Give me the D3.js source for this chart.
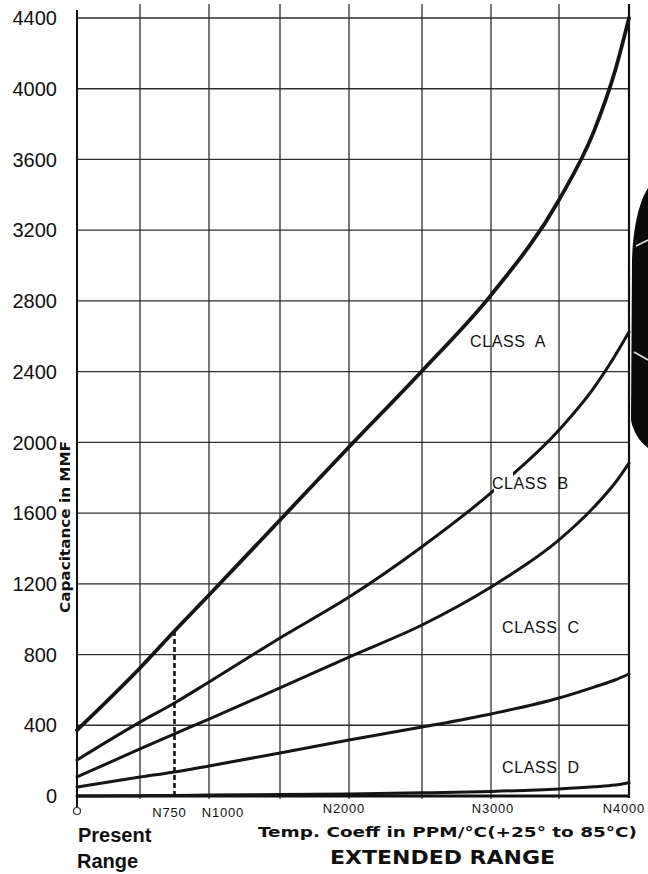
<!DOCTYPE html>
<html>
<head>
<meta charset="utf-8">
<script src="https://cdn.jsdelivr.net/npm/d3@7/dist/d3.min.js"></script>
<style>
  html, body { margin: 0; padding: 0; background: #fff; }
  svg { display: block; }
  text { font-family: "Liberation Sans", Arial, sans-serif; fill: #111; }
</style>
</head>
<body>
<svg id="chart" width="648" height="874"></svg>
<script>
// ---------------- data ----------------
const tempCoeffs = [0, 500, 750, 1000, 1500, 2000, 2500, 3000, 3500, 3750, 3900, 4000];
const curveA = [373, 724, 933, 1137, 1561, 1974, 2404, 2833, 3371, 3760, 4100, 4400];
const curveB = [204, 418, 526, 645, 894, 1125, 1410, 1714, 2070, 2310, 2490, 2624];
const curveC = [108, 266, 351, 435, 611, 786, 967, 1182, 1448, 1634, 1770, 1883];
const curveD = [51, 107, 136, 170, 243, 317, 390, 464, 554, 616, 656, 690];
const curveE = [0, 2, 3, 5, 8, 12, 18, 26, 40, 52, 62, 75];
const yTicks = [0, 400, 800, 1200, 1600, 2000, 2400, 2800, 3200, 3600, 4000, 4400];
const xGrid = [500, 1000, 1500, 2000, 2500, 3000, 3500];
const xTickValues = [750, 1000, 2000, 3000, 4000];
const xTickLabels = ["N750", "N1000", "N2000", "N3000", "N4000"];
const classLabels = ["CLASS  A", "CLASS  B", "CLASS  C", "CLASS  D"];
const classAnchors = [[2848, 2539], [3007, 1736], [3081, 922], [3081, 130]]; // [coeff, capacitance] of each label
const presentLimit = 750;

// ---------------- scales ----------------
const svg = d3.select("#chart");
// the hand-drawn grid has slightly uneven columns
const x = d3.scaleLinear()
  .domain([0, 500, 1000, 1500, 2000, 2500, 3000, 3500, 4000])
  .range([77, 140, 209, 280, 349, 422, 491, 559, 629]);
const y = d3.scaleLinear().domain([0, 4400]).range([796, 18]);

const gridColor = "#2e2e2a";

// horizontal grid
svg.append("g").selectAll("line").data(yTicks.filter(d => d > 0)).join("line")
  .attr("x1", x(0)).attr("x2", x(4000))
  .attr("y1", d => y(d)).attr("y2", d => y(d))
  .attr("stroke", gridColor).attr("stroke-width", 1.3);

// vertical grid
svg.append("g").selectAll("line").data(xGrid).join("line")
  .attr("x1", d => x(d)).attr("x2", d => x(d))
  .attr("y1", 4).attr("y2", y(0) + 3)
  .attr("stroke", gridColor).attr("stroke-width", 1.3);

// frame lines
svg.append("line").attr("x1", x(0)).attr("x2", x(0)).attr("y1", 10).attr("y2", y(0) + 11)
  .attr("stroke", "#111").attr("stroke-width", 2);
svg.append("line").attr("x1", x(4000)).attr("x2", x(4000)).attr("y1", 4).attr("y2", y(0) + 2)
  .attr("stroke", "#111").attr("stroke-width", 2.2);
svg.append("line").attr("x1", x(0)).attr("x2", x(4000)).attr("y1", y(0)).attr("y2", y(0))
  .attr("stroke", "#111").attr("stroke-width", 3);
svg.append("circle").attr("cx", x(0)).attr("cy", y(0) + 15).attr("r", 3.5)
  .attr("fill", "#fff").attr("stroke", "#333").attr("stroke-width", 1.2);

// curves
const line = d3.line().x((d, i) => x(tempCoeffs[i])).y(d => y(d)).curve(d3.curveMonotoneX);
const series = [
  { values: curveA, w: 3.8 },
  { values: curveB, w: 3.0 },
  { values: curveC, w: 3.0 },
  { values: curveD, w: 3.0 },
  { values: curveE, w: 3.0 }
];
svg.append("g").selectAll("path").data(series).join("path")
  .attr("d", d => line(d.values))
  .attr("fill", "none").attr("stroke", "#151515")
  .attr("stroke-width", d => d.w).attr("stroke-linecap", "round");

// dashed line at present limit
const idx750 = tempCoeffs.indexOf(presentLimit);
svg.append("line")
  .attr("x1", x(presentLimit)).attr("x2", x(presentLimit))
  .attr("y1", y(0)).attr("y2", y(curveA[idx750]))
  .attr("stroke", "#151515").attr("stroke-width", 2.6).attr("stroke-dasharray", "5,3");

// class labels
const lbl = svg.append("g").selectAll("g").data(classLabels).join("g");
lbl.each(function (t, i) {
  const g = d3.select(this);
  const px = x(classAnchors[i][0]), py = y(classAnchors[i][1]);
  if (i === 1) {
    g.append("rect").attr("x", px + 2).attr("y", py - 18).attr("width", 19).attr("height", 21).attr("fill", "#fff");
  }
  g.append("text").attr("x", px).attr("y", py)
    .attr("font-size", 16).attr("letter-spacing", 0.6)
    .style("white-space", "pre")
    .text(t);
});

// y tick labels
svg.append("g").selectAll("text").data(yTicks).join("text")
  .attr("x", 57).attr("y", d => y(d)).attr("dy", "0.36em")
  .attr("text-anchor", "end").attr("font-size", 20)
  .text(d => d);

// x tick labels
const xOffsets = [-5, 14, -5, 2, -5];
svg.append("g").selectAll("text").data(xTickValues).join("text")
  .attr("x", (d, i) => x(d) + xOffsets[i]).attr("y", (d, i) => (i < 2 ? 817 : 813))
  .attr("text-anchor", "middle").attr("font-size", 13).attr("letter-spacing", 0.8)
  .text((d, i) => xTickLabels[i]);

// y axis title
svg.append("text")
  .attr("transform", "translate(70,527) rotate(-90)")
  .attr("text-anchor", "middle").attr("font-size", 14).attr("font-weight", "bold")
  .style("font-family", "'DejaVu Sans', sans-serif")
  .attr("textLength", 172).attr("lengthAdjust", "spacingAndGlyphs")
  .text("Capacitance in MMF");

// x axis titles
svg.append("text").attr("x", 258).attr("y", 837)
  .attr("font-size", 14).attr("font-weight", "bold")
  .style("font-family", "'DejaVu Sans', sans-serif")
  .attr("textLength", 379).attr("lengthAdjust", "spacingAndGlyphs")
  .text("Temp. Coeff in PPM/°C(+25° to 85°C)");
svg.append("text").attr("x", 78).attr("y", 842)
  .attr("font-size", 20).attr("font-weight", "bold").text("Present");
svg.append("text").attr("x", 77).attr("y", 868)
  .attr("font-size", 20).attr("font-weight", "bold").text("Range");
svg.append("text").attr("x", 330).attr("y", 864)
  .attr("font-size", 19).attr("font-weight", "bold")
  .style("font-family", "'DejaVu Sans', sans-serif")
  .attr("textLength", 225).attr("lengthAdjust", "spacingAndGlyphs")
  .text("EXTENDED RANGE");

// dark object at the right edge of the photograph
svg.append("path")
  .attr("d", "M648,188 C640,200 633,225 632,260 L631,420 C633,432 640,442 648,448 Z")
  .attr("fill", "#0a0a0a");
svg.append("path").attr("d", "M636,246 L648,240").attr("stroke", "#ddd").attr("stroke-width", 1.6);
svg.append("path").attr("d", "M634,352 L648,360").attr("stroke", "#ddd").attr("stroke-width", 1.6);
</script>
</body>
</html>
